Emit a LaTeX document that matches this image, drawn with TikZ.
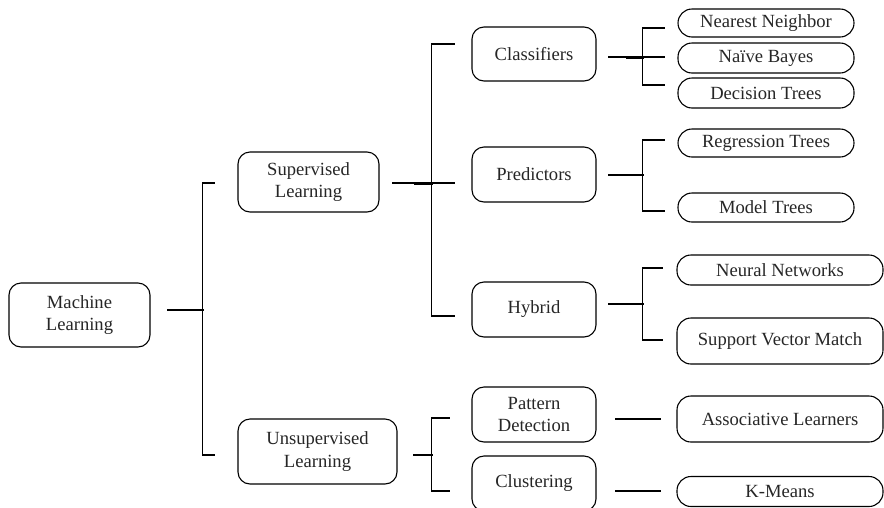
\documentclass[tikz,border=0pt]{standalone}
\usepackage{fontspec}
\setmainfont{Liberation Serif}
\newfontfamily\labelfont{Liberation Serif}
\begin{document}
\begin{tikzpicture}[x=1pt,y=-1pt,
  every node/.style={font=\labelfont\fontsize{18.6}{22.3}\selectfont, text=black!85},
  box/.style={draw, line width=1.1pt, rounded corners=12pt, align=center, inner sep=0pt},
  leaf/.style={draw, line width=1.1pt, rounded corners=14pt, align=center, inner sep=0pt},
  conn/.style={line width=1.5pt, line cap=rect},
  joint/.style={line width=3pt}]
\useasboundingbox (0,0) rectangle (884,507);

% first and second level
\node[box, minimum width=141pt, minimum height=64pt] (ml) at (79.5,315) {Machine\\Learning};
\node[box, minimum width=141pt, minimum height=60pt] (sup) at (308.5,182) {Supervised\\Learning};
\node[box, minimum width=159pt, minimum height=65pt] (unsup) at (317.5,451.5) {Unsupervised\\Learning};

% third level
\node[box, minimum width=124pt, minimum height=54pt] (cls) at (534,54) {Classifiers};
\node[box, minimum width=124pt, minimum height=55pt] (pred) at (534,174.5) {Predictors};
\node[box, minimum width=124pt, minimum height=55pt] (hyb) at (534,309.5) {Hybrid};
\node[box, minimum width=124pt, minimum height=55pt] (pat) at (534,414.5) {Pattern\\Detection};
\node[box, minimum width=124pt, minimum height=55pt] (clu) at (534,483.5) {Clustering};

% algorithms
\node[leaf, minimum width=176pt, minimum height=28pt] (nn) at (766,23) {Nearest Neighbor};
\node[leaf, minimum width=176pt, minimum height=30pt] (nb) at (766,58) {Naïve Bayes};
\node[leaf, minimum width=176pt, minimum height=30pt] (dt) at (766,93) {Decision Trees};
\node[leaf, minimum width=176pt, minimum height=28pt] (rt) at (766,143) {Regression Trees};
\node[leaf, minimum width=176pt, minimum height=29pt] (mt) at (766,207.5) {Model Trees};
\node[leaf, minimum width=206pt, minimum height=30pt] (neu) at (780,270) {Neural Networks};
\node[leaf, minimum width=206pt, minimum height=46pt] (svm) at (780,341) {Support Vector Match};
\node[leaf, minimum width=206pt, minimum height=46pt] (asl) at (780,419) {Associative Learners};
\node[leaf, minimum width=206pt, minimum height=30pt] (km) at (780,491.5) {K-Means};

% Machine Learning bracket
\draw[conn] ([xshift=17pt,yshift=5pt]ml.east) -- ++(36pt,0);
\draw[conn] ([xshift=-23pt,yshift=-1pt]sup.west) -- ++(-12pt,0) |- ([xshift=-23pt,yshift=-3.5pt]unsup.west);

% Supervised bracket
\draw[conn] ([xshift=13pt,yshift=-1pt]sup.east) -- ([xshift=-17pt,yshift=-8.5pt]pred.west);
\draw[joint] ([xshift=34pt,yshift=-1pt]sup.east) -- ++(19pt,0);
\draw[conn] ([xshift=-17pt,yshift=10pt]cls.west) -- ++(-23pt,0) |- ([xshift=-17pt,yshift=-6.5pt]hyb.west);

% Unsupervised bracket
\draw[conn] ([xshift=16pt,yshift=-3.5pt]unsup.east) -- ++(19pt,0);
\draw[conn] ([xshift=-22pt,yshift=-3.5pt]pat.west) -- ++(-18pt,0) |- ([xshift=-22pt,yshift=-7.5pt]clu.west);

% Classifiers bracket
\draw[conn] ([xshift=12pt,yshift=-3pt]cls.east) -- ([xshift=-13pt,yshift=1pt]nb.west);
\draw[joint] ([xshift=29pt,yshift=-3pt]cls.east) -- ++(18pt,0);
\draw[conn] ([xshift=-13pt,yshift=-5pt]nn.west) -- ++(-22pt,0) |- ([xshift=-13pt,yshift=8pt]dt.west);

% Predictors bracket
\draw[conn] ([xshift=12pt,yshift=-0.5pt]pred.east) -- ++(35pt,0);
\draw[conn] ([xshift=-13pt,yshift=3pt]rt.west) -- ++(-22pt,0) |- ([xshift=-13pt,yshift=-3.5pt]mt.west);

% Hybrid bracket
\draw[conn] ([xshift=12pt,yshift=5.5pt]hyb.east) -- ++(35pt,0);
\draw[conn] ([xshift=-14pt,yshift=2pt]neu.west) -- ++(-20pt,0) |- ([xshift=-14pt,yshift=1pt]svm.west);

% single links
\draw[conn] ([xshift=19pt,yshift=-4.5pt]pat.east) -- ([xshift=-16pt]asl.west);
\draw[conn] ([xshift=19pt,yshift=-7.5pt]clu.east) -- ([xshift=-16pt,yshift=0.5pt]km.west);
\end{tikzpicture}
\end{document}
